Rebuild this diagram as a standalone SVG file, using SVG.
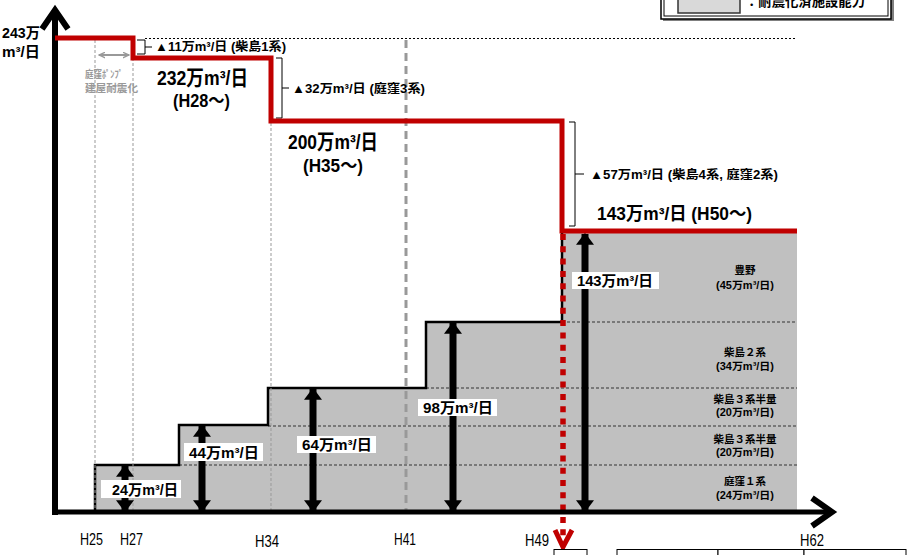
<svg xmlns="http://www.w3.org/2000/svg" width="914" height="555" viewBox="0 0 914 555">
<defs>
<style>
text{font-family:"Liberation Sans","Noto Sans CJK JP",sans-serif;font-weight:bold;fill:#000}
.cjk{font-family:"Noto Sans CJK JP","Liberation Sans",sans-serif}
.ax{font-weight:normal;font-size:16px}
.lbl{font-size:15px}
.seg{font-size:10.5px;text-anchor:middle}
.note{font-size:12.5px}
.big{font-size:21px}
.mid{font-size:18px}
.grey{fill:#999;font-size:10.5px}
.vdot{stroke:#999;stroke-width:1;stroke-dasharray:3 2;fill:none}
.hdash{stroke:#333;stroke-width:1;stroke-dasharray:3 2;fill:none}
.brace{fill:none;stroke:#000;stroke-width:1}
.dbl{stroke:#000;stroke-width:7}
.box{fill:#fff}
</style>
<marker id="ah" viewBox="0 0 10 10" refX="9" refY="5" markerWidth="12" markerHeight="18" preserveAspectRatio="none" orient="auto-start-reverse" markerUnits="userSpaceOnUse">
<path d="M0,0 L10,5 L0,10 z" fill="#000"/>
</marker>
<marker id="gah" viewBox="0 0 10 10" refX="9" refY="5" markerWidth="7" markerHeight="7" orient="auto-start-reverse" markerUnits="userSpaceOnUse">
<path d="M0,1 L9,5 L0,9" fill="none" stroke="#999" stroke-width="2"/>
</marker>
</defs>

<g id="legend">
<rect x="663" y="-10" width="231" height="31" fill="#808080"/>
<rect x="661" y="-12" width="230" height="31" fill="#fff" stroke="#000" stroke-width="1.5"/>
<rect x="664" y="-12" width="224" height="28" fill="none" stroke="#000" stroke-width="1"/>
<rect x="678" y="-10" width="62" height="23" fill="#d9d9d9" stroke="#333" stroke-width="1.5"/>
<text x="745" y="6" class="cjk" font-size="14" textLength="120" lengthAdjust="spacingAndGlyphs">：耐震化済施設能力</text>
</g>

<g id="capacity-area">
<path d="M95,512 V465 H179 V425 H268 V388 H426 V322 H562 V231 H797 V512 Z" fill="#c0c0c0"/>
<path class="hdash" d="M179,465 H797 M268,426 H797 M426,388 H797 M562,322 H797"/>
<path d="M95,512 V465 H179 V425 H268 V388 H426 V322 H562 V231" fill="none" stroke="#000" stroke-width="2.5"/>
</g>

<g id="guides">
<line class="vdot" x1="95" y1="40" x2="95" y2="512"/>
<line class="vdot" x1="133" y1="58" x2="133" y2="512"/>
<line class="vdot" x1="271" y1="123" x2="271" y2="512"/>
<line x1="406" y1="40" x2="406" y2="512" stroke="#999" stroke-width="3" stroke-dasharray="8 5"/>
<line x1="145" y1="38.5" x2="797" y2="38.5" stroke="#000" stroke-width="1" stroke-dasharray="2 2"/>
</g>

<g id="connectors">
<line class="dbl" x1="125" y1="466" x2="125" y2="511" marker-start="url(#ah)" marker-end="url(#ah)"/>
<line class="dbl" x1="202" y1="426" x2="202" y2="511" marker-start="url(#ah)" marker-end="url(#ah)"/>
<line class="dbl" x1="313" y1="389" x2="313" y2="511" marker-start="url(#ah)" marker-end="url(#ah)"/>
<line class="dbl" x1="453" y1="323" x2="453" y2="511" marker-start="url(#ah)" marker-end="url(#ah)"/>
<line class="dbl" x1="585" y1="234" x2="585" y2="511" marker-start="url(#ah)" marker-end="url(#ah)"/>
<line x1="99" y1="55" x2="129" y2="55" stroke="#999" stroke-width="2" marker-start="url(#gah)" marker-end="url(#gah)"/>
<line x1="563" y1="234" x2="563" y2="540" stroke="#c00000" stroke-width="5.5" stroke-dasharray="6 6.3"/>
<path d="M555,530 L563,547 L572,530" fill="none" stroke="#c00000" stroke-width="5"/>
<path d="M137,40 H145 V54 H137 M145,47 H152" class="brace"/>
<path d="M276,58 H282 V118 H276 M282,88 H289" class="brace"/>
<path d="M569,122 H575 V226 H569 M575,174 H584" class="brace"/>
</g>

<g id="axes">
<line x1="55" y1="10" x2="55" y2="515" stroke="#000" stroke-width="6"/>
<path d="M42,29 L55,10 L68,29" fill="none" stroke="#000" stroke-width="6"/>
<line x1="52" y1="512" x2="832" y2="512" stroke="#000" stroke-width="5"/>
<path d="M812,498 L832,512 L812,526" fill="none" stroke="#000" stroke-width="6"/>
</g>

<g id="capacity-line">
<path d="M55,38 H133 V58 H271 V121 H562 V231 H797" fill="none" stroke="#c00000" stroke-width="5"/>
</g>

<g id="axis-labels">
<text class="ax" x="80" y="545" textLength="23" lengthAdjust="spacingAndGlyphs">H25</text>
<text class="ax" x="120" y="545" textLength="23" lengthAdjust="spacingAndGlyphs">H27</text>
<text class="ax" x="255" y="547" textLength="24" lengthAdjust="spacingAndGlyphs">H34</text>
<text class="ax" x="394" y="545" textLength="22" lengthAdjust="spacingAndGlyphs">H41</text>
<text class="ax" x="525" y="546" textLength="24" lengthAdjust="spacingAndGlyphs">H49</text>
<text class="ax" x="800" y="546" textLength="24" lengthAdjust="spacingAndGlyphs">H62</text>
<text x="2" y="38" font-size="15" textLength="38" lengthAdjust="spacingAndGlyphs">243万</text>
<text x="2" y="57" font-size="15" textLength="38" lengthAdjust="spacingAndGlyphs">m³/日</text>
</g>

<g id="step-labels">
<text class="note" x="155" y="51" textLength="131" lengthAdjust="spacingAndGlyphs">▲11万m³/日 (柴島1系)</text>
<text class="big" x="157" y="85" textLength="91" lengthAdjust="spacingAndGlyphs">232万m³/日</text>
<text class="mid" x="173" y="107" textLength="57" lengthAdjust="spacingAndGlyphs">(H28～)</text>
<text class="grey cjk" x="85" y="78" textLength="38" lengthAdjust="spacingAndGlyphs">庭窪ﾎﾟﾝﾌﾟ</text>
<text class="grey cjk" x="85" y="92" textLength="53" lengthAdjust="spacingAndGlyphs">建屋耐震化</text>
<text class="note" x="292" y="93" textLength="133" lengthAdjust="spacingAndGlyphs">▲32万m³/日 (庭窪3系)</text>
<text class="big" x="288" y="149" textLength="90" lengthAdjust="spacingAndGlyphs">200万m³/日</text>
<text class="mid" x="303" y="172" textLength="60" lengthAdjust="spacingAndGlyphs">(H35～)</text>
<text class="note" x="590" y="179" textLength="188" lengthAdjust="spacingAndGlyphs">▲57万m³/日 (柴島4系, 庭窪2系)</text>
<text class="mid" x="597" y="220" textLength="155" lengthAdjust="spacingAndGlyphs">143万m³/日 (H50～)</text>
</g>

<g id="arrow-labels">
<rect class="box" x="101" y="480" width="80" height="18"/>
<text class="lbl" x="112" y="495" textLength="66" lengthAdjust="spacingAndGlyphs">24万m³/日</text>
<rect class="box" x="184" y="443" width="79" height="18"/>
<text class="lbl" x="189" y="458" textLength="70" lengthAdjust="spacingAndGlyphs">44万m³/日</text>
<rect class="box" x="297" y="436" width="79" height="17"/>
<text class="lbl" x="302" y="450" textLength="70" lengthAdjust="spacingAndGlyphs">64万m³/日</text>
<rect class="box" x="418" y="399" width="79" height="17"/>
<text class="lbl" x="423" y="413" textLength="70" lengthAdjust="spacingAndGlyphs">98万m³/日</text>
<rect class="box" x="572" y="272" width="87" height="17"/>
<text class="lbl" x="577" y="286" textLength="76" lengthAdjust="spacingAndGlyphs">143万m³/日</text>
</g>

<g id="segment-labels">
<text class="seg cjk" x="745" y="274">豊野</text>
<text class="seg" x="745" y="289" textLength="58" lengthAdjust="spacingAndGlyphs">(45万m³/日)</text>
<text class="seg cjk" x="745" y="356">柴島２系</text>
<text class="seg" x="745" y="370" textLength="58" lengthAdjust="spacingAndGlyphs">(34万m³/日)</text>
<text class="seg cjk" x="745" y="403">柴島３系半量</text>
<text class="seg" x="745" y="416" textLength="58" lengthAdjust="spacingAndGlyphs">(20万m³/日)</text>
<text class="seg cjk" x="745" y="443">柴島３系半量</text>
<text class="seg" x="745" y="456" textLength="58" lengthAdjust="spacingAndGlyphs">(20万m³/日)</text>
<text class="seg cjk" x="745" y="485">庭窪１系</text>
<text class="seg" x="745" y="499" textLength="58" lengthAdjust="spacingAndGlyphs">(24万m³/日)</text>
</g>

<g id="table-cells">
<rect x="554" y="549.5" width="33" height="12" fill="#fff" stroke="#000" stroke-width="1"/>
<rect x="617" y="549.5" width="101" height="12" fill="#fff" stroke="#000" stroke-width="1"/>
<rect x="718" y="549.5" width="86" height="12" fill="#fff" stroke="#000" stroke-width="1"/>
<rect x="804" y="549.5" width="102" height="12" fill="#fff" stroke="#000" stroke-width="1"/>
</g>
</svg>
